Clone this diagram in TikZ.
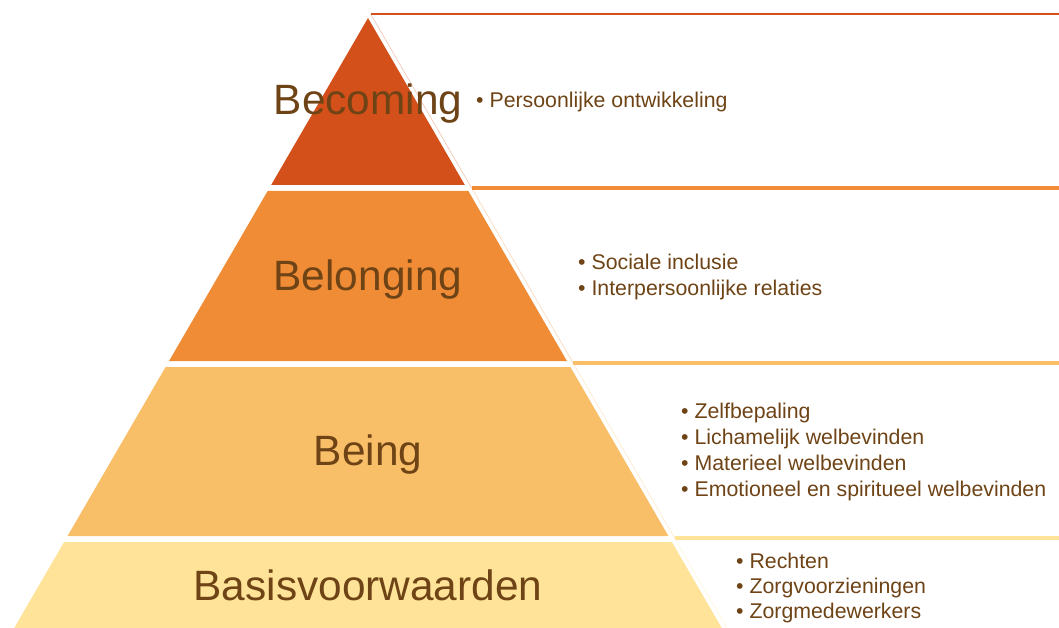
\documentclass[tikz,border=0pt]{standalone}
\usepackage{fontspec}
\setmainfont{Liberation Sans}
\usetikzlibrary{calc}

\definecolor{becomingc}{HTML}{D4501A}
\definecolor{belongingc}{HTML}{F08B36}
\definecolor{beingc}{HTML}{F8BE68}
\definecolor{basisc}{HTML}{FEE398}
\definecolor{textbrown}{HTML}{6E4315}

\begin{document}
\begin{tikzpicture}[
      x=1pt, y=-1pt,
      level/.style={font=\fontsize{42.4}{50}\selectfont, text=textbrown, anchor=base, inner sep=0pt},
      items/.style={font=\fontsize{21.3}{26}\selectfont, text=textbrown, align=left, anchor=west, inner sep=0pt}]
  \useasboundingbox (0,0) rectangle (1059,628);

      % Pyramid layers
      \foreach \ya/\yb/\col in {18/185/becomingc, 191/361/belongingc, 367/536/beingc, 542/640/basisc}
        \fill[\col] ({368-0.58*(\ya-18)},\ya) -- ({368+0.58*(\ya-18)},\ya)
                 -- ({368+0.58*(\yb-18)},\yb) -- ({368-0.58*(\yb-18)},\yb) -- cycle;

      % Text boxes
      \foreach \ya/\yb/\col/\lw in {14/188/becomingc/2.5pt, 188/363/belongingc/4pt, 363/538/beingc/4pt, 538/640/basisc/4pt}{
        \draw[\col!35, line width=0.6pt] ({373+0.58*(\ya-18)},\ya) -- ({373+0.58*(\yb-18)},\yb);
        \draw[\col, line width=\lw] ({373+0.58*(\ya-18)},\ya) -- (1065,\ya);
      }

      % Nodes
      \node[level] (becoming) at (368,115) {Becoming};
      \node[level] (belonging) at (368,290) {Belonging};
      \node[level] (being) at (368,465) {Being};
      \node[level] (basis) at (368,600) {Basisvoorwaarden};

      \node[items] (becomingitems) at (476,101.5) {• Persoonlijke ontwikkeling};
      \node[items] (belongingitems) at (578,276.5) {• Sociale inclusie\\• Interpersoonlijke relaties};
      \node[items] (beingitems) at (681,451.5) {• Zelfbepaling\\• Lichamelijk welbevinden\\• Materieel welbevinden\\• Emotioneel en spiritueel welbevinden};
      \node[items, font=\fontsize{21.3}{25}\selectfont] (basisitems) at (736,587.5) {• Rechten\\• Zorgvoorzieningen\\• Zorgmedewerkers};

    \end{tikzpicture}
\end{document}
